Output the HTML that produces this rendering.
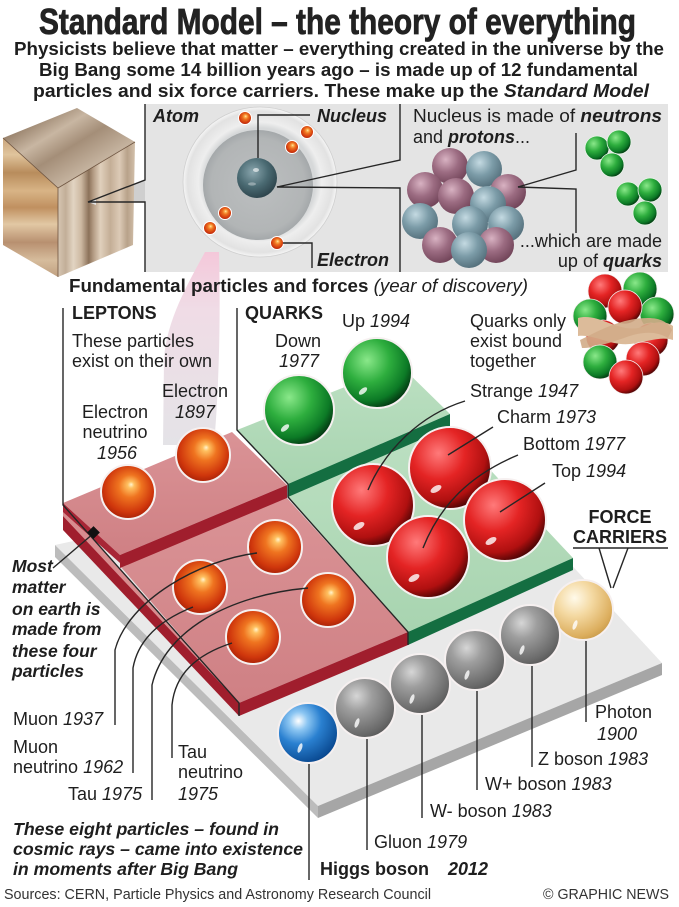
<!DOCTYPE html>
<html><head><meta charset="utf-8"><style>
html,body{margin:0;padding:0;background:#fff;}
svg{display:block;}
text{font-family:"Liberation Sans",Arial,sans-serif;fill:#1e1e1e;font-size:18px;}
.b{font-weight:bold}
.i{font-style:italic}
.bi{font-weight:bold;font-style:italic}
.ln{stroke:#262626;stroke-width:1.4;fill:none}
</style></head><body>
<svg width="679" height="907" viewBox="0 0 679 907" xmlns="http://www.w3.org/2000/svg">
<defs>
<radialGradient id="gOr" cx="0.5" cy="0.45" r="0.6" fx="0.56" fy="0.36">
<stop offset="0" stop-color="#fff4d0"/><stop offset="0.1" stop-color="#ffc060"/><stop offset="0.35" stop-color="#ef7420"/><stop offset="0.75" stop-color="#cf360c"/><stop offset="1" stop-color="#9a1a06"/></radialGradient>
<radialGradient id="gRed" cx="0.36" cy="0.32" r="0.8">
<stop offset="0" stop-color="#ff7a7a"/><stop offset="0.4" stop-color="#e42424"/><stop offset="0.72" stop-color="#b01010"/><stop offset="0.92" stop-color="#3a0202"/><stop offset="1" stop-color="#200000"/></radialGradient>
<radialGradient id="gGrn" cx="0.36" cy="0.32" r="0.8">
<stop offset="0" stop-color="#8ae88a"/><stop offset="0.4" stop-color="#2eae3e"/><stop offset="0.72" stop-color="#0c7a26"/><stop offset="0.92" stop-color="#022c0e"/><stop offset="1" stop-color="#011806"/></radialGradient>
<radialGradient id="gGry" cx="0.36" cy="0.3" r="0.85">
<stop offset="0" stop-color="#d6d6d6"/><stop offset="0.3" stop-color="#9e9e9e"/><stop offset="0.75" stop-color="#6a6a6a"/><stop offset="1" stop-color="#474747"/></radialGradient>
<radialGradient id="gBlu" cx="0.34" cy="0.3" r="0.85">
<stop offset="0" stop-color="#ffffff"/><stop offset="0.18" stop-color="#8cc6f2"/><stop offset="0.45" stop-color="#2a80d0"/><stop offset="0.85" stop-color="#0a4a92"/><stop offset="1" stop-color="#083a72"/></radialGradient>
<radialGradient id="gPho" cx="0.36" cy="0.3" r="0.85">
<stop offset="0" stop-color="#fffaea"/><stop offset="0.35" stop-color="#f4d9a2"/><stop offset="0.75" stop-color="#dcae5e"/><stop offset="1" stop-color="#b88a3a"/></radialGradient>
<radialGradient id="gTeal" cx="0.38" cy="0.32" r="0.8">
<stop offset="0" stop-color="#c4dae2"/><stop offset="0.45" stop-color="#7c9ca8"/><stop offset="1" stop-color="#4a6470"/></radialGradient>
<radialGradient id="gMauve" cx="0.38" cy="0.32" r="0.8">
<stop offset="0" stop-color="#d8b2c2"/><stop offset="0.45" stop-color="#9c6c82"/><stop offset="1" stop-color="#663a4e"/></radialGradient>
<radialGradient id="gNuc" cx="0.4" cy="0.35" r="0.75">
<stop offset="0" stop-color="#8aa6ae"/><stop offset="0.5" stop-color="#4a6a72"/><stop offset="1" stop-color="#263a42"/></radialGradient>
<radialGradient id="gAtom" cx="0.5" cy="0.5" r="0.5">
<stop offset="0.72" stop-color="#d6d8d9"/><stop offset="0.8" stop-color="#eeeeee"/><stop offset="0.94" stop-color="#e2e2e2"/><stop offset="1" stop-color="#f6f6f6"/></radialGradient>
<radialGradient id="gAtomIn" cx="0.5" cy="0.5" r="0.5">
<stop offset="0" stop-color="#bcbfc0"/><stop offset="0.85" stop-color="#b2b5b6"/><stop offset="1" stop-color="#a4a8aa"/></radialGradient>
<linearGradient id="woodR" x1="0" x2="1" y1="0" y2="0">
<stop offset="0" stop-color="#d6c6b2"/><stop offset="0.1" stop-color="#c2ae98"/><stop offset="0.2" stop-color="#e2d4c2"/><stop offset="0.3" stop-color="#cdb9a2"/><stop offset="0.4" stop-color="#8c725a"/><stop offset="0.46" stop-color="#b49c84"/><stop offset="0.55" stop-color="#e0d0bc"/><stop offset="0.68" stop-color="#c4ae96"/><stop offset="0.8" stop-color="#dccab6"/><stop offset="0.9" stop-color="#b8a28a"/><stop offset="1" stop-color="#d2c0aa"/></linearGradient>
<linearGradient id="woodL" x1="0" x2="0" y1="0" y2="1">
<stop offset="0" stop-color="#c8a47c"/><stop offset="0.12" stop-color="#e0c49c"/><stop offset="0.25" stop-color="#b88c5c"/><stop offset="0.38" stop-color="#d8b486"/><stop offset="0.5" stop-color="#c09060"/><stop offset="0.62" stop-color="#e2c8a4"/><stop offset="0.75" stop-color="#b89070"/><stop offset="0.88" stop-color="#d6bc9c"/><stop offset="1" stop-color="#c0a080"/></linearGradient>
<linearGradient id="woodT" x1="0" x2="1" y1="0" y2="1">
<stop offset="0" stop-color="#bca894"/><stop offset="0.2" stop-color="#9c8670"/><stop offset="0.35" stop-color="#c8b6a2"/><stop offset="0.5" stop-color="#a48e78"/><stop offset="0.7" stop-color="#c4b29e"/><stop offset="0.85" stop-color="#9a8470"/><stop offset="1" stop-color="#b4a08a"/></linearGradient>
<linearGradient id="beam" x1="0" x2="0" y1="0" y2="1">
<stop offset="0" stop-color="#f4c8da"/><stop offset="0.3" stop-color="#f0dce6"/><stop offset="1" stop-color="#e4e3e7"/></linearGradient>
<linearGradient id="pinkTop" x1="0" x2="0" y1="0" y2="1">
<stop offset="0" stop-color="#da9396"/><stop offset="1" stop-color="#cf8084"/></linearGradient>
<linearGradient id="greenTop" x1="0" x2="0" y1="0" y2="1">
<stop offset="0" stop-color="#bce0c2"/><stop offset="1" stop-color="#a8d4b0"/></linearGradient>
</defs>

<!-- HEADER -->
<text x="39" y="34" class="b" style="font-family:'Liberation Sans Narrow','Liberation Sans',sans-serif;font-size:36px;fill:#222;stroke:#222;stroke-width:0.8" textLength="597" lengthAdjust="spacingAndGlyphs">Standard Model – the theory of everything</text>
<text x="14" y="55" class="b" textLength="650" lengthAdjust="spacingAndGlyphs">Physicists believe that matter – everything created in the universe by the</text>
<text x="39" y="76" class="b" textLength="599" lengthAdjust="spacingAndGlyphs">Big Bang some 14 billion years ago – is made up of 12 fundamental</text>
<text x="33" y="97" class="b" textLength="616" lengthAdjust="spacingAndGlyphs">particles and six force carriers. These make up the <tspan class="bi">Standard Model</tspan></text>

<!-- TOP PANEL -->
<rect x="145" y="104" width="523" height="168" fill="#e4e4e4"/>
<polygon points="88,202 145,180 145,202" fill="#cfcfcf"/>

<!-- cube -->
<polygon points="3,138 58,188 58,277 3,245" fill="url(#woodL)"/>
<polygon points="58,188 135,142 133,245 58,277" fill="url(#woodR)"/>
<polygon points="3,138 77,108 135,142 58,188" fill="url(#woodT)"/>
<polyline points="3,138 58,188 135,142" fill="none" stroke="#6e5440" stroke-width="0.8"/>
<line x1="58" y1="188" x2="58" y2="277" stroke="#6e5440" stroke-width="0.8"/>
<polygon points="88,202 96,199 96,205" fill="#e4e4e4"/>

<!-- beam -->
<path d="M205,252 C190,280 166,320 164,360 L163,445 L214,445 C218,400 221,330 219,252 Z" fill="url(#beam)"/>

<!-- atom -->
<ellipse cx="260" cy="182" rx="77" ry="75" fill="url(#gAtom)" stroke="#cfcfcf" stroke-width="0.8"/>
<circle cx="258" cy="185" r="55" fill="url(#gAtomIn)"/>
<circle cx="257" cy="178" r="20" fill="url(#gNuc)"/>
<ellipse cx="256" cy="170" rx="3" ry="2" fill="#fff" opacity="0.6"/>
<ellipse cx="252" cy="184" rx="4" ry="1.6" fill="#fff" opacity="0.35"/>
<g stroke="#fff" stroke-width="1">
<circle cx="245" cy="118" r="6.5" fill="url(#gOr)"/>
<circle cx="307" cy="132" r="6.5" fill="url(#gOr)"/>
<circle cx="292" cy="147" r="6.5" fill="url(#gOr)"/>
<circle cx="225" cy="213" r="6.5" fill="url(#gOr)"/>
<circle cx="210" cy="228" r="6.5" fill="url(#gOr)"/>
<circle cx="277" cy="243" r="6.5" fill="url(#gOr)"/>
</g>

<!-- nucleus cluster -->
<g>
<circle cx="450" cy="166" r="18" fill="url(#gMauve)"/>
<circle cx="484" cy="169" r="18" fill="url(#gTeal)"/>
<circle cx="425" cy="190" r="18" fill="url(#gMauve)"/>
<circle cx="508" cy="192" r="18" fill="url(#gMauve)"/>
<circle cx="456" cy="196" r="18" fill="url(#gMauve)"/>
<circle cx="488" cy="204" r="18" fill="url(#gTeal)"/>
<circle cx="420" cy="221" r="18" fill="url(#gTeal)"/>
<circle cx="506" cy="224" r="18" fill="url(#gTeal)"/>
<circle cx="470" cy="224" r="18" fill="url(#gTeal)"/>
<circle cx="440" cy="245" r="18" fill="url(#gMauve)"/>
<circle cx="496" cy="245" r="18" fill="url(#gMauve)"/>
<circle cx="469" cy="250" r="18" fill="url(#gTeal)"/>
</g>
<!-- green quark groups -->
<g stroke="#e8f4e8" stroke-width="0.8">
<circle cx="597" cy="148" r="12" fill="url(#gGrn)"/>
<circle cx="619" cy="142" r="12" fill="url(#gGrn)"/>
<circle cx="612" cy="165" r="12" fill="url(#gGrn)"/>
<circle cx="628" cy="194" r="12" fill="url(#gGrn)"/>
<circle cx="650" cy="190" r="12" fill="url(#gGrn)"/>
<circle cx="645" cy="213" r="12" fill="url(#gGrn)"/>
</g>

<!-- top panel lines -->
<polyline class="ln" points="145,104 145,180 88,202 145,202 145,272"/>
<polyline class="ln" points="400,104 400,160 277,187 400,188 400,272"/>
<polyline class="ln" points="258,158 258,115 310,115"/>
<polyline class="ln" points="283,243 312,243 312,268"/>
<polyline class="ln" points="576,133 576,170 518,187 576,189 576,233"/>

<text x="153" y="122" class="bi">Atom</text>
<text x="317" y="122" class="bi">Nucleus</text>
<text x="317" y="266" class="bi">Electron</text>
<text x="413" y="122" textLength="249" lengthAdjust="spacingAndGlyphs">Nucleus is made of <tspan class="bi">neutrons</tspan></text>
<text x="413" y="143">and <tspan class="bi">protons</tspan>...</text>
<text x="662" y="247" text-anchor="end">...which are made</text>
<text x="662" y="267" text-anchor="end">up of <tspan class="bi">quarks</tspan></text>

<text x="69" y="292" textLength="459" lengthAdjust="spacingAndGlyphs"><tspan class="b">Fundamental particles and forces</tspan><tspan class="i"> (year of discovery)</tspan></text>

<!-- confined quark cluster -->
<g stroke="#f4eeee" stroke-width="0.8">
<circle cx="640" cy="289" r="17" fill="url(#gGrn)"/>
<circle cx="605" cy="291" r="17" fill="url(#gRed)"/>
<circle cx="590" cy="316" r="17" fill="url(#gGrn)"/>
<circle cx="657" cy="314" r="17" fill="url(#gGrn)"/>
<circle cx="625" cy="307" r="17" fill="url(#gRed)"/>
<circle cx="603" cy="337" r="17" fill="url(#gRed)"/>
<circle cx="651" cy="340" r="17" fill="url(#gRed)"/>
</g>
<path d="M578,318 C600,312 620,336 645,326 C658,320 668,322 673,326 L673,340 C660,336 648,342 630,344 C610,346 595,334 578,336 Z" fill="#dcbb9a"/>
<path d="M580,340 C600,330 622,318 648,318 C660,318 668,322 672,330 L668,338 C655,330 640,332 624,338 C606,344 594,348 582,348 Z" fill="#d2ac88" opacity="0.9"/>
<g stroke="#f4eeee" stroke-width="0.8">
<circle cx="600" cy="362" r="17" fill="url(#gGrn)"/>
<circle cx="643" cy="359" r="17" fill="url(#gRed)"/>
<circle cx="626" cy="377" r="17" fill="url(#gRed)"/>
</g>

<!-- PLATFORMS -->
<polygon points="55,545 470,455 662,663 318,806" fill="#e9e9e9"/>
<polygon points="55,545 318,806 318,818 55,557" fill="#bcbcbc"/>
<polygon points="318,806 662,663 662,675 318,818" fill="#a6a6a6"/>
<polygon points="63,505 239,703 63,516" fill="#d88c8f"/>
<polygon points="63,516 239,703 239,716 63,530" fill="#a01e2d"/>
<polygon points="120,566 287,498 408,632 239,703" fill="url(#pinkTop)"/>
<polygon points="239,703 408,632 408,645 239,716" fill="#a01e2d"/>
<polygon points="288,497 450,427 573,558 408,632" fill="url(#greenTop)"/>
<polygon points="408,632 573,558 573,570 408,645" fill="#146e41"/>
<polygon points="63,503 232,432 287,485 120,555" fill="url(#pinkTop)"/>
<polygon points="120,555 287,485 287,498 120,568" fill="#a01e2d"/>
<polygon points="63,503 120,555 120,563 63,512" fill="#a82636"/>
<polygon points="237,430 400,365 450,414 288,484" fill="url(#greenTop)"/>
<polygon points="288,484 450,414 450,427 288,497" fill="#146e41"/>

<!-- BALLS -->
<g stroke="#f6f0f0" stroke-width="2">
<circle cx="377" cy="373" r="35" fill="url(#gGrn)"/>
<circle cx="299" cy="410" r="35" fill="url(#gGrn)"/>
<circle cx="203" cy="455" r="27" fill="url(#gOr)"/>
<circle cx="128" cy="492" r="27" fill="url(#gOr)"/>
<circle cx="450" cy="468" r="41" fill="url(#gRed)"/>
<circle cx="373" cy="505" r="41" fill="url(#gRed)"/>
<circle cx="505" cy="520" r="41" fill="url(#gRed)"/>
<circle cx="428" cy="557" r="41" fill="url(#gRed)"/>
<circle cx="275" cy="547" r="27" fill="url(#gOr)"/>
<circle cx="328" cy="600" r="27" fill="url(#gOr)"/>
<circle cx="200" cy="587" r="27" fill="url(#gOr)"/>
<circle cx="253" cy="637" r="27" fill="url(#gOr)"/>
<circle cx="583" cy="610" r="30" fill="url(#gPho)"/>
<circle cx="530" cy="635" r="30" fill="url(#gGry)"/>
<circle cx="475" cy="660" r="30" fill="url(#gGry)"/>
<circle cx="420" cy="684" r="30" fill="url(#gGry)"/>
<circle cx="365" cy="708" r="30" fill="url(#gGry)"/>
<circle cx="308" cy="733" r="30" fill="url(#gBlu)"/>
</g>
<g fill="#fff" opacity="0.8">
<ellipse cx="363" cy="391" rx="5" ry="2.5" transform="rotate(-40 363 391)"/>
<ellipse cx="285" cy="428" rx="5" ry="2.5" transform="rotate(-40 285 428)"/>
<ellipse cx="436" cy="489" rx="6" ry="3" transform="rotate(-30 436 489)"/>
<ellipse cx="359" cy="526" rx="6" ry="3" transform="rotate(-30 359 526)"/>
<ellipse cx="491" cy="541" rx="6" ry="3" transform="rotate(-30 491 541)"/>
<ellipse cx="414" cy="578" rx="6" ry="3" transform="rotate(-30 414 578)"/>
<ellipse cx="575" cy="625" rx="2" ry="5" transform="rotate(20 575 625)"/>
<ellipse cx="522" cy="650" rx="2" ry="5" transform="rotate(20 522 650)"/>
<ellipse cx="467" cy="675" rx="2" ry="5" transform="rotate(20 467 675)"/>
<ellipse cx="412" cy="699" rx="2" ry="5" transform="rotate(20 412 699)"/>
<ellipse cx="357" cy="723" rx="2" ry="5" transform="rotate(20 357 723)"/>
<ellipse cx="300" cy="748" rx="2" ry="5" transform="rotate(20 300 748)"/>
</g>

<!-- bracket lines -->
<polyline class="ln" points="63,308 63,505 239,703 239,716"/>
<polyline class="ln" points="237,308 237,430 288,484 288,497 408,632 408,645"/>
<line class="ln" x1="53" y1="568" x2="94" y2="533"/>
<rect x="89" y="528" width="9" height="9" fill="#111" transform="rotate(45 93.5 532.5)"/>

<path class="ln" d="M257,553 C200,560 128,600 115,650 L115,725"/>
<path class="ln" d="M193,607 C160,620 138,640 133,668 L133,773"/>
<path class="ln" d="M308,588 C230,595 165,630 152,685 L152,800"/>
<path class="ln" d="M232,643 C195,655 175,675 172,705 L172,758"/>
<path class="ln" d="M465,401 C420,415 385,450 368,490"/>
<path class="ln" d="M493,427 L448,455"/>
<path class="ln" d="M518,455 C470,475 440,505 423,548"/>
<path class="ln" d="M545,483 L500,512"/>
<line class="ln" x1="309" y1="764" x2="309" y2="880"/>
<line class="ln" x1="367" y1="739" x2="367" y2="850"/>
<line class="ln" x1="422" y1="715" x2="422" y2="818"/>
<line class="ln" x1="477" y1="691" x2="477" y2="790"/>
<line class="ln" x1="532" y1="666" x2="532" y2="767"/>
<line class="ln" x1="586" y1="641" x2="586" y2="722"/>
<polyline class="ln" points="573,548 668,548"/>
<polyline class="ln" points="599,548 611,588"/>
<polyline class="ln" points="628,548 613,588"/>

<!-- LABELS -->
<text x="72" y="319" class="b">LEPTONS</text>
<text x="245" y="319" class="b">QUARKS</text>
<text x="72" y="347">These particles</text>
<text x="72" y="367">exist on their own</text>
<text x="298" y="347" text-anchor="middle">Down</text>
<text x="299" y="367" text-anchor="middle" class="i">1977</text>
<text x="342" y="327">Up <tspan class="i">1994</tspan></text>
<text x="470" y="327">Quarks only</text>
<text x="470" y="347">exist bound</text>
<text x="470" y="367">together</text>
<text x="162" y="397">Electron</text>
<text x="175" y="418" class="i">1897</text>
<text x="115" y="418" text-anchor="middle">Electron</text>
<text x="115" y="438" text-anchor="middle">neutrino</text>
<text x="117" y="459" text-anchor="middle" class="i">1956</text>
<text x="470" y="397">Strange <tspan class="i">1947</tspan></text>
<text x="497" y="423">Charm <tspan class="i">1973</tspan></text>
<text x="523" y="450">Bottom <tspan class="i">1977</tspan></text>
<text x="552" y="477">Top <tspan class="i">1994</tspan></text>
<text x="620" y="523" text-anchor="middle" class="b">FORCE</text>
<text x="620" y="543" text-anchor="middle" class="b">CARRIERS</text>

<text x="12" y="572" class="bi" style="font-size:17.5px">Most</text>
<text x="12" y="593" class="bi" style="font-size:17.5px">matter</text>
<text x="12" y="615" class="bi" style="font-size:17.5px">on earth is</text>
<text x="12" y="635" class="bi" style="font-size:17.5px">made from</text>
<text x="12" y="657" class="bi" style="font-size:17.5px">these four</text>
<text x="12" y="677" class="bi" style="font-size:17.5px">particles</text>

<text x="13" y="725">Muon <tspan class="i">1937</tspan></text>
<text x="13" y="753">Muon</text>
<text x="13" y="773">neutrino <tspan class="i">1962</tspan></text>
<text x="68" y="800">Tau <tspan class="i">1975</tspan></text>
<text x="178" y="758">Tau</text>
<text x="178" y="778">neutrino</text>
<text x="178" y="800" class="i">1975</text>

<text x="595" y="718">Photon</text>
<text x="597" y="740" class="i">1900</text>
<text x="538" y="765">Z boson <tspan class="i">1983</tspan></text>
<text x="485" y="790">W+ boson <tspan class="i">1983</tspan></text>
<text x="430" y="817">W- boson <tspan class="i">1983</tspan></text>
<text x="374" y="848">Gluon <tspan class="i">1979</tspan></text>
<text x="320" y="875" class="b">Higgs boson</text>
<text x="448" y="875" class="bi">2012</text>

<text x="13" y="835" class="bi" style="font-size:17.5px" textLength="266" lengthAdjust="spacingAndGlyphs">These eight particles – found in</text>
<text x="13" y="855" class="bi" style="font-size:17.5px" textLength="290" lengthAdjust="spacingAndGlyphs">cosmic rays – came into existence</text>
<text x="13" y="875" class="bi" style="font-size:17.5px" textLength="225" lengthAdjust="spacingAndGlyphs">in moments after Big Bang</text>

<text x="4" y="899" style="font-size:15px;fill:#333" textLength="427" lengthAdjust="spacingAndGlyphs">Sources: CERN, Particle Physics and Astronomy Research Council</text>
<text x="543" y="899" style="font-size:15px;fill:#333" textLength="126" lengthAdjust="spacingAndGlyphs">© GRAPHIC NEWS</text>
</svg>
</body></html>
